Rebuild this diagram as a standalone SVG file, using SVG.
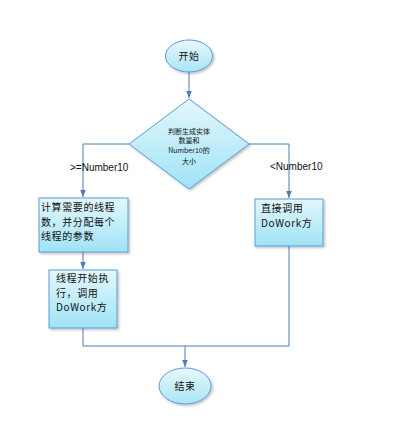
<svg xmlns="http://www.w3.org/2000/svg" width="401" height="423" viewBox="0 0 401 423">
<style>
.node{stroke:#5b9bd5;stroke-width:1;filter:url(#sh)}
.box{fill:url(#gb)}
.ell{fill:url(#ge)}
.t{font-family:"Noto Sans CJK SC","Liberation Sans",sans-serif;font-size:10px;letter-spacing:0.6px;fill:#111}
.ts{font-family:"Noto Sans CJK SC","Liberation Sans",sans-serif;font-size:7px;fill:#111;text-anchor:middle}
.lbl{font-family:"Liberation Sans",sans-serif;font-size:10px;fill:#111}
.c{fill:none;stroke:#4f7db5;stroke-width:1}
</style>
<defs>
<linearGradient id="gb" x1="0" y1="0" x2="0" y2="1">
<stop offset="0" stop-color="#e4f7fc"/>
<stop offset="1" stop-color="#9fe3f6"/>
</linearGradient>
<linearGradient id="ge" x1="0" y1="0" x2="0" y2="1">
<stop offset="0" stop-color="#e8f8fc"/>
<stop offset="1" stop-color="#a9e5f5"/>
</linearGradient>
<filter id="sh" x="-20%" y="-20%" width="150%" height="150%">
<feDropShadow dx="1.5" dy="1.5" stdDeviation="1.2" flood-color="#000" flood-opacity="0.25"/>
</filter>
<marker id="ar" viewBox="0 0 10 10" refX="10" refY="5" markerWidth="7" markerHeight="7" orient="auto" markerUnits="userSpaceOnUse">
<path d="M0,1 L10,5 L0,9 Z" fill="#4f7db5"/>
</marker>
</defs>
<g id="connectors">
<path class="c" d="M189,72 V98" marker-end="url(#ar)"/>
<path class="c" d="M129,144 H83 V197" marker-end="url(#ar)"/>
<path class="c" d="M249,144 H289 V198" marker-end="url(#ar)"/>
<path class="c" d="M83,252 V269" marker-end="url(#ar)"/>
<path class="c" d="M83,328 V346 H289 V246"/>
<path class="c" d="M185,346 V367" marker-end="url(#ar)"/>
<text class="lbl" x="70" y="171">&gt;=Number10</text>
<text class="lbl" x="270" y="170">&lt;Number10</text>
</g>
<g id="start">
<ellipse class="node ell" cx="189" cy="56" rx="23.5" ry="16"/>
<text class="t" x="189" y="60" text-anchor="middle">开始</text>
</g>
<g id="decision">
<polygon class="node box" points="189,99 249,144 189,189 129,144"/>
<text class="ts" x="189" y="134">判断生成实体</text>
<text class="ts" x="189" y="143">数量和</text>
<text class="ts" x="189" y="153">Number10的</text>
<text class="ts" x="189" y="164">大小</text>
</g>
<g id="calc">
<rect class="node box" x="39" y="198" width="89" height="54"/>
<text class="t" x="41" y="211">计算需要的线程</text>
<text class="t" x="41" y="225.5">数，并分配每个</text>
<text class="t" x="41" y="240">线程的参数</text>
</g>
<g id="threads">
<rect class="node box" x="49" y="270" width="68" height="58"/>
<text class="t" x="56" y="282">线程开始执</text>
<text class="t" x="56" y="296.5">行，调用</text>
<text class="t" x="56" y="311">DoWork方</text>
</g>
<g id="direct">
<rect class="node box" x="255" y="199" width="68" height="47"/>
<text class="t" x="261" y="212">直接调用</text>
<text class="t" x="261" y="226.5">DoWork方</text>
</g>
<g id="end">
<ellipse class="node ell" cx="185" cy="386" rx="26" ry="18"/>
<text class="t" x="185" y="390" text-anchor="middle">结束</text>
</g>
</svg>
